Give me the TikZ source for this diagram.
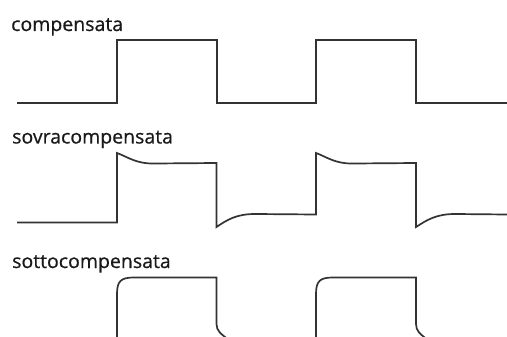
\documentclass[tikz,border=0pt]{standalone}
\usepackage{fontspec}
\setmainfont{Open Sans}
\usepackage{tikz}

\tikzset{
  wave/.style={line width=1.7pt,color=black!80,line join=miter},
  lbl/.style={anchor=base west,inner sep=0pt,font=\fontsize{19.5}{22}\selectfont\addfontfeature{FakeBold=0.6},color=black!90}
}

\begin{document}
\begin{tikzpicture}[x=1pt,y=-1pt]
\useasboundingbox (0,0) rectangle (507,337);
\clip (0,0) rectangle (507,337);
%%% compensata %%%%
%% labels
\node[lbl] (cmp) at (11,31) {compensata};
%% edges
\draw[wave] (17,103) -- (117,103) -- (117,40) -- (217,40) -- (217,103)
  -- (316,103) -- (316,40) -- (416,40) -- (416,103) -- (507,103);

%%% sovracompensata %%%%
%% labels
\node[lbl] (sovra) at (12,143.5) {sovracompensata};
%% edges
\draw[wave] (17,222.5) -- (117,222.5) -- (117,153)
  .. controls (128,157) and (136,164) .. (155,163.5) -- (216.5,163)
  -- (216.5,227) .. controls (227,220) and (236,214) .. (255,214) -- (316,214.5)
  -- (316,153) .. controls (327,157) and (335,164) .. (354,163.5) -- (416,163)
  -- (416,227) .. controls (427,220) and (436,214) .. (455,214) -- (507,214.5);

%%% sottocompensata %%%%
%% labels
\node[lbl] (sotto) at (12,268) {sottocompensata};
%% edges
\draw[wave] (117,340) -- (117,294) .. controls (117,281) and (121,277.5) .. (134,277.5)
  -- (216.5,277.5) -- (216.5,324) .. controls (216.5,331) and (221,334) .. (229,340);
\draw[wave] (316,340) -- (316,294) .. controls (316,281) and (320,277.5) .. (333,277.5)
  -- (416,277.5) -- (416,324) .. controls (416,331) and (420,334) .. (428,340);
\end{tikzpicture}
\end{document}
